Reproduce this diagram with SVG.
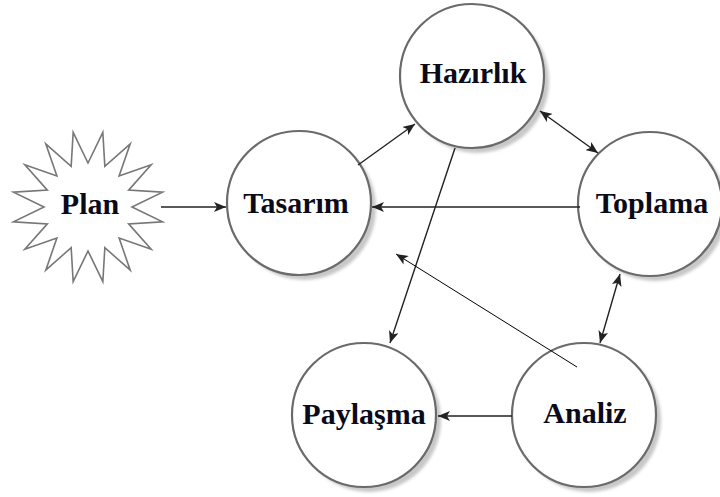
<svg xmlns="http://www.w3.org/2000/svg" width="720" height="497" viewBox="0 0 720 497">
<style>
.node{fill:#fff;stroke:#6a6a6a;stroke-width:2.2}
.shadow{fill:#c8c8c8;filter:url(#blur)}
.lbl{font-family:"Liberation Serif","Times New Roman",serif;font-weight:bold;font-size:30px;fill:#0a0a1a;text-anchor:middle}
.edge{fill:none;stroke:#222;stroke-width:1.4}
.thin{fill:none;stroke:#000;stroke-width:1}
</style>
<defs>
<filter id="blur" x="-20%" y="-20%" width="140%" height="140%"><feGaussianBlur stdDeviation="1.5"/></filter>
<marker id="arr" viewBox="0 0 12 10" refX="12" refY="5" markerWidth="12" markerHeight="10" markerUnits="userSpaceOnUse" orient="auto-start-reverse">
<path d="M0,0 L12,5 L0,10 L3,5 z" fill="#222"/>
</marker>
</defs>
<rect width="720" height="497" fill="#fff"/>
<g id="plan">
<polygon points="88,163 102.83,132.46 104.84,166.35 130.22,143.81 119.11,175.89 151.19,164.78 128.65,190.16 162.54,192.17 132,207 162.54,221.83 128.65,223.84 151.19,249.22 119.11,238.11 130.22,270.19 104.84,247.65 102.83,281.54 88,251 73.17,281.54 71.16,247.65 45.78,270.19 56.89,238.11 24.81,249.22 47.35,223.84 13.46,221.83 44,207 13.46,192.17 47.35,190.16 24.81,164.78 56.89,175.89 45.78,143.81 71.16,166.35 73.17,132.46" fill="#fff" stroke="#777" stroke-width="1.6"/>
<text class="lbl" x="90" y="214">Plan</text>
</g>
<g id="tasarim">
<circle class="shadow" cx="304" cy="208" r="72"/>
<circle class="node" cx="299" cy="203" r="72"/>
<text class="lbl" x="296" y="213">Tasarım</text>
</g>
<g id="hazirlik">
<circle class="shadow" cx="477" cy="81" r="72"/>
<circle class="node" cx="472" cy="76" r="72"/>
<text class="lbl" x="473" y="83">Hazırlık</text>
</g>
<g id="toplama">
<circle class="shadow" cx="655" cy="209" r="72"/>
<circle class="node" cx="650" cy="204" r="72"/>
<text class="lbl" x="652" y="213">Toplama</text>
</g>
<g id="paylasma">
<circle class="shadow" cx="369" cy="420" r="72"/>
<circle class="node" cx="364" cy="415" r="72"/>
<text class="lbl" x="364" y="424">Paylaşma</text>
</g>
<g id="analiz">
<circle class="shadow" cx="589" cy="420" r="72"/>
<circle class="node" cx="584" cy="415" r="72"/>
<text class="lbl" x="585" y="423">Analiz</text>
</g>
<g id="connectors">
<line class="edge" x1="161" y1="207" x2="226" y2="207" marker-end="url(#arr)"/>
<line class="edge" x1="358" y1="165" x2="415" y2="124" marker-end="url(#arr)"/>
<line class="edge" x1="540" y1="111" x2="598" y2="153" marker-start="url(#arr)" marker-end="url(#arr)"/>
<line class="edge" x1="580" y1="207" x2="372" y2="207" marker-end="url(#arr)"/>
<line class="edge" x1="455" y1="148" x2="390" y2="343" marker-end="url(#arr)"/>
<line class="thin" x1="577" y1="367" x2="396" y2="254" marker-end="url(#arr)"/>
<line class="edge" x1="620" y1="274" x2="600" y2="343" marker-start="url(#arr)" marker-end="url(#arr)"/>
<line class="edge" x1="512" y1="416" x2="438" y2="416" marker-end="url(#arr)"/>
</g>
</svg>
